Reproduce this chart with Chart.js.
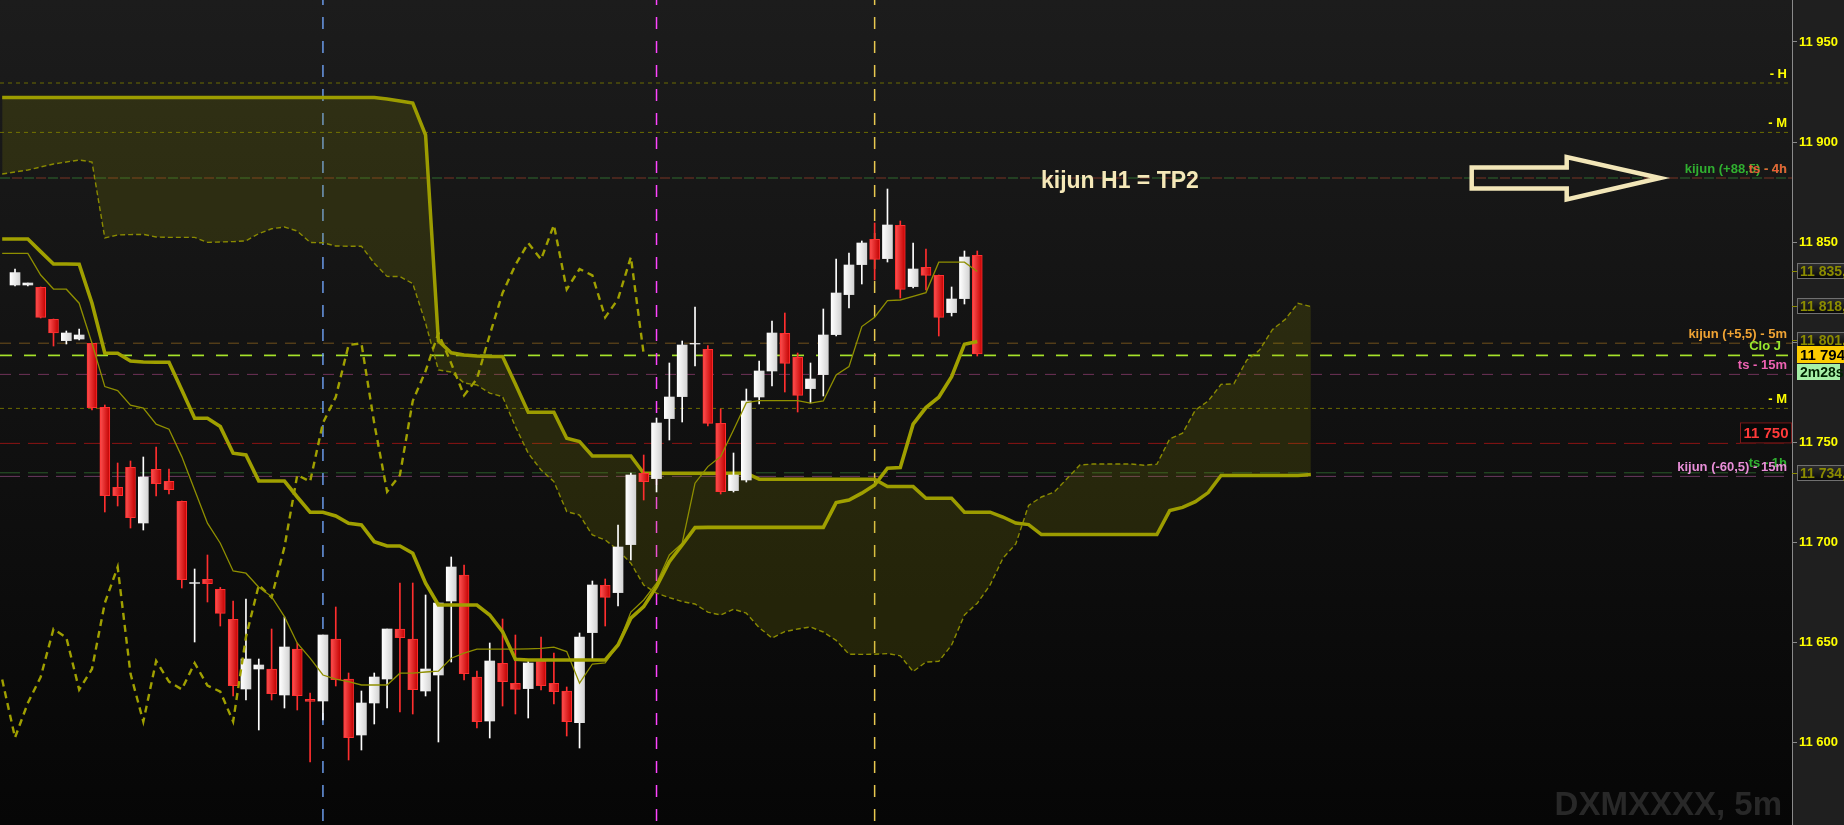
<!doctype html>
<html lang="en">
<head>
<meta charset="utf-8">
<title>DXMXXXX, 5m</title>
<style>
  * { margin: 0; padding: 0; }
  body { background: #0a0a0a; overflow: hidden; }
  .chartBox { width: 1844px; height: 825px; position: relative; }
</style>
</head>
<body>
<div class="chartBox"><canvas id="myChart"></canvas></div>
<script src="https://cdn.jsdelivr.net/npm/chart.js"></script>
<script>
// 5m candles, oldest first (bar index 0..75)
const opens = [11828.5, 11828.5, 11827.3, 11811.3, 11800.7, 11801.5, 11799.3, 11767.3, 11727.3, 11737.3,
  11709.5, 11736.3, 11730.3, 11720.3, 11679.3, 11681.3, 11676.3, 11661.3, 11626.5, 11636.5,
  11636.5, 11623.5, 11646.5, 11621.3, 11620.5, 11651.5, 11631.5, 11603.5, 11619.5, 11631.5,
  11656.5, 11651.5, 11625.5, 11633.5, 11670.5, 11683.5, 11632.5, 11610.5, 11639.3, 11629.3,
  11626.7, 11640.5, 11629.3, 11625.5, 11609.7, 11654.7, 11678.3, 11674.7, 11698.7, 11734.3,
  11731.7, 11761.7, 11772.7, 11799.0, 11796.3, 11759.3, 11725.7, 11731.0, 11772.5, 11785.5,
  11804.3, 11792.3, 11776.7, 11783.7, 11803.7, 11823.7, 11838.7, 11851.3, 11841.7, 11858.3,
  11827.7, 11837.3, 11833.3, 11814.7, 11821.7, 11843.3];
const highs = [11836.5, 11829.5, 11827.5, 11811.5, 11805.5, 11806.5, 11799.5, 11768.5, 11739.5, 11740.5,
  11742.5, 11747.5, 11736.5, 11720.5, 11686.5, 11693.5, 11677.3, 11670.5, 11671.5, 11641.5,
  11656.5, 11662.5, 11649.5, 11624.5, 11653.5, 11667.5, 11634.5, 11625.5, 11634.5, 11656.5,
  11679.5, 11679.5, 11673.5, 11669.5, 11692.5, 11688.5, 11635.5, 11649.5, 11661.5, 11653.5,
  11640.5, 11652.5, 11644.5, 11627.5, 11654.5, 11680.5, 11681.5, 11708.5, 11734.5, 11743.5,
  11762.0, 11789.5, 11800.5, 11817.5, 11798.2, 11766.5, 11744.5, 11776.5, 11790.5, 11810.5,
  11814.5, 11794.5, 11789.5, 11816.5, 11841.5, 11844.5, 11850.5, 11859.5, 11876.5, 11860.5,
  11849.5, 11846.5, 11833.5, 11827.5, 11845.5, 11845.5];
const lows = [11828.0, 11828.0, 11812.0, 11798.0, 11799.0, 11801.0, 11766.0, 11715.0, 11718.0, 11707.0,
  11706.0, 11723.0, 11724.0, 11677.0, 11650.0, 11670.0, 11658.0, 11623.0, 11621.0, 11606.0,
  11621.0, 11617.0, 11616.0, 11590.0, 11611.0, 11628.0, 11591.0, 11596.0, 11609.0, 11617.0,
  11615.0, 11614.0, 11623.0, 11600.0, 11640.0, 11631.0, 11607.0, 11602.0, 11618.0, 11614.0,
  11612.0, 11626.0, 11619.0, 11603.0, 11597.0, 11641.5, 11658.0, 11668.0, 11691.0, 11721.0,
  11725.0, 11751.0, 11760.0, 11788.0, 11758.0, 11724.0, 11725.0, 11730.0, 11769.0, 11778.0,
  11775.0, 11765.0, 11769.5, 11773.0, 11803.0, 11817.0, 11829.0, 11831.0, 11840.0, 11822.0,
  11827.0, 11826.0, 11803.0, 11813.0, 11819.0, 11793.0];
const closes = [11834.7, 11829.5, 11812.3, 11804.5, 11804.5, 11803.5, 11767.2, 11723.2, 11723.2, 11712.2,
  11732.5, 11729.2, 11726.2, 11681.2, 11679.7, 11679.2, 11664.3, 11628.2, 11641.5, 11638.5,
  11624.2, 11647.5, 11623.2, 11620.3, 11653.5, 11631.2, 11602.2, 11619.5, 11632.5, 11656.5,
  11652.2, 11626.2, 11636.5, 11669.5, 11687.5, 11634.2, 11610.2, 11640.5, 11630.2, 11626.3,
  11639.5, 11628.2, 11625.2, 11610.2, 11652.5, 11678.5, 11672.3, 11697.5, 11733.5, 11730.2,
  11759.5, 11772.5, 11798.5, 11799.3, 11759.3, 11725.2, 11733.5, 11770.5, 11785.5, 11804.5,
  11789.3, 11773.3, 11781.5, 11803.5, 11824.5, 11838.5, 11849.5, 11841.3, 11858.5, 11826.3,
  11836.5, 11833.3, 11812.3, 11821.5, 11842.5, 11794.0];

// ichimoku lines, first value sits at bar -1 (left edge)
const lineStart = -1;
const tenkan = [11844.3, 11844.3, 11844.3, 11833.5, 11826.5, 11826.4, 11819.4, 11799.4, 11777.7, 11775.7, 11768.4,
  11766.9, 11758.9, 11756.4, 11742.7, 11726.0, 11709.4, 11699.4, 11685.5, 11684.4, 11677.4,
  11672.7, 11662.7, 11649.4, 11641.9, 11633.5, 11631.4, 11630.2, 11628.5, 11628.5, 11628.5,
  11634.4, 11634.4, 11635.0, 11635.4, 11641.9, 11644.4, 11646.4, 11646.4, 11646.4, 11646.4,
  11646.6, 11646.8, 11647.4, 11645.2, 11629.4, 11639.0, 11639.5, 11648.5, 11665.0, 11671.0,
  11679.4, 11693.5, 11699.4, 11729.4, 11737.7, 11742.7, 11756.0, 11769.7, 11770.7, 11770.7,
  11770.7, 11770.7, 11769.4, 11770.5, 11783.5, 11787.7, 11807.7, 11812.4, 11820.7, 11821.0,
  11822.8, 11824.7, 11839.9, 11839.9, 11839.9, 11835.2];
const kijun = [11851.5, 11851.5, 11851.5, 11845.2, 11839.0, 11839.0, 11838.9, 11819.4, 11794.4, 11794.4, 11790.5,
  11790.0, 11789.9, 11789.9, 11776.0, 11761.9, 11761.9, 11757.7, 11744.4, 11743.5, 11730.5,
  11730.5, 11730.5, 11722.5, 11714.9, 11714.9, 11713.0, 11709.4, 11708.5, 11700.2, 11698.0,
  11698.0, 11694.4, 11679.4, 11668.5, 11668.5, 11668.5, 11668.5, 11663.5, 11655.2, 11641.4,
  11641.0, 11641.0, 11641.0, 11641.0, 11641.0, 11641.0, 11641.0, 11648.5, 11661.9, 11667.7,
  11677.7, 11690.2, 11698.5, 11707.2, 11707.3, 11707.3, 11707.3, 11707.3, 11707.3, 11707.3,
  11707.3, 11707.3, 11707.3, 11707.3, 11719.7, 11721.0, 11724.4, 11728.5, 11736.9, 11737.2,
  11758.9, 11767.2, 11772.4, 11782.7, 11798.9, 11800.2];
// cloud, bar -1..101 (already drawn 26 bars ahead)
const senkouA = [11884.0, 11885.0, 11886.0, 11887.5, 11889.0, 11890.0, 11891.0, 11890.0, 11852.0, 11853.5, 11853.7,
  11853.8, 11852.5, 11852.3, 11852.3, 11852.3, 11849.8, 11850.0, 11850.2, 11850.6, 11854.2,
  11856.6, 11857.5, 11855.5, 11849.8, 11849.6, 11848.0, 11847.9, 11847.9, 11839.4, 11832.8,
  11832.7, 11829.2, 11809.4, 11786.0, 11785.0, 11779.5, 11778.5, 11774.4, 11772.7, 11757.7,
  11744.4, 11736.0, 11730.2, 11715.2, 11713.5, 11703.5, 11701.0, 11696.0, 11689.4, 11678.5,
  11674.4, 11672.2, 11670.2, 11669.0, 11664.9, 11663.5, 11666.4, 11664.4, 11657.2, 11652.0,
  11655.2, 11656.5, 11657.5, 11655.0, 11650.8, 11643.9, 11643.8, 11643.9, 11644.2, 11643.1,
  11635.2, 11640.0, 11640.3, 11648.5, 11663.5, 11669.4, 11678.5, 11691.9, 11699.0, 11718.3,
  11722.5, 11725.0, 11731.7, 11738.5, 11739.0, 11739.0, 11739.0, 11739.0, 11738.4, 11738.9,
  11751.6, 11754.4, 11766.0, 11770.5, 11778.8, 11779.1, 11790.9, 11796.0, 11806.2, 11811.3,
  11819.4, 11817.7];
const senkouB = [11922.2, 11922.2, 11922.2, 11922.2, 11922.2, 11922.2, 11922.2, 11922.2, 11922.2, 11922.2, 11922.2,
  11922.2, 11922.2, 11922.2, 11922.2, 11922.2, 11922.2, 11922.2, 11922.2, 11922.2, 11922.2,
  11922.2, 11922.2, 11922.2, 11922.2, 11922.2, 11922.2, 11922.2, 11922.2, 11922.2, 11921.5,
  11920.5, 11919.5, 11903.5, 11800.5, 11794.6, 11793.5, 11793.0, 11792.7, 11792.7, 11779.0,
  11764.9, 11764.9, 11764.9, 11751.9, 11750.2, 11743.0, 11743.0, 11743.0, 11743.0, 11734.4,
  11734.4, 11734.4, 11734.4, 11734.4, 11734.4, 11734.4, 11734.4, 11734.4, 11731.4, 11731.4,
  11731.4, 11731.4, 11731.4, 11731.4, 11731.4, 11731.4, 11731.4, 11731.4, 11727.7, 11727.7,
  11727.7, 11721.9, 11721.9, 11721.9, 11714.9, 11714.9, 11714.9, 11712.5, 11709.5, 11708.7,
  11703.7, 11703.7, 11703.7, 11703.7, 11703.7, 11703.7, 11703.7, 11703.7, 11703.7, 11703.7,
  11715.7, 11717.3, 11720.2, 11724.7, 11733.3, 11733.3, 11733.3, 11733.3, 11733.3, 11733.3,
  11733.3, 11733.8];
const chikouShift = 26; // lagging line = closes drawn 26 bars back

const priceTicks = [11600, 11650, 11700, 11750, 11800, 11850, 11900, 11950];

// horizontal levels with their right-hand tags
const levelValues = [11929.5, 11904.8, 11882.0, 11882.0, 11799.4, 11793.3, 11783.8, 11766.8, 11749.3, 11734.6, 11732.8];
const levelLabels = ['- H', '- M', 'kijun (+88,5) - 4h', 'ts - 4h', 'kijun (+5,5) - 5m', 'Clo J', 'ts - 15m', '- M', '', 'ts - 1h', 'kijun (-60,5) - 15m'];

// session separators (bar index)
const markerBars = [24, 50, 67];

// values tagged on the price axis
const axisTagValues = [11835.5, 11818.2, 11801.0, 11734.5];
const lastPrice = 11794;
const countdown = '2m28s';
const alertPrice = 11750;

// ---- styles ----
const FONT = 'Arial, "Liberation Sans", sans-serif';
const levelStyles = [
  {line: '#6b6b00', dash: [4, 4], text: '#ffff00'},
  {line: '#6b6b00', dash: [4, 4], text: '#ffff00'},
  {line: '#2f6a2f', dash: [10, 14], off: 0, text: '#30b030'},
  {line: '#7a3424', dash: [10, 14], off: 12, text: '#e85a36'},
  {line: '#70501c', dash: [11, 8], text: '#f0a434'},
  {line: '#a6e22a', dash: [12, 12], width: 1.7, text: '#9ae82e', inset: 6},
  {line: '#6e3258', dash: [11, 8], text: '#ee62b2'},
  {line: '#6b6b00', dash: [4, 4], text: '#ffff00'},
  {line: '#8a1414', dash: [20, 8], text: null},
  {line: '#2a5a2a', dash: [20, 8], text: '#30b030'},
  {line: '#6a3a5e', dash: [20, 8], text: '#e88ed8'}
];
const markerColors = ['#6a9ae8', '#ff44ff', '#e8c850'];

const xMin = -1.17, xMax = 138.5, yMin = 11558.5, yMax = 11971;

function fmtPrice(v, dec) {
  const s = v.toFixed(dec).split('.');
  const whole = s[0].replace(/\B(?=(\d{3})+(?!\d))/g, ' ');
  return s.length > 1 ? whole + ',' + s[1] : whole;
}

const isUp = i => closes[i] >= opens[i];
const bars = opens.map((_, i) => i);
const asLine = arr => arr.map((v, i) => ({x: i + lineStart, y: v}));

function bodyFill(c) {
  const i = c.dataIndex;
  const up = isUp(i);
  const chart = c.chart;
  if (!chart.chartArea || !chart.scales.x) return up ? '#f0f0f0' : '#ee2222';
  const px = chart.scales.x.getPixelForValue(i);
  const g = chart.ctx.createLinearGradient(px - 5, 0, px + 5, 0);
  if (up) { g.addColorStop(0, '#ffffff'); g.addColorStop(1, '#d4d4d4'); }
  else { g.addColorStop(0, '#ff5252'); g.addColorStop(1, '#c20000'); }
  return g;
}

const datasets = [];

levelValues.forEach((v, i) => {
  const s = levelStyles[i];
  datasets.push({
    type: 'line', data: [{x: xMin, y: v}, {x: xMax, y: v}],
    borderColor: s.line, borderWidth: s.width || 1, borderDash: s.dash, borderDashOffset: s.off || 0,
    pointRadius: 0, order: 20
  });
});
markerBars.forEach((b, i) => {
  datasets.push({
    type: 'line', data: [{x: b, y: yMax}, {x: b, y: yMin}],
    borderColor: markerColors[i], borderWidth: 1.5, borderDash: [12, 12], borderDashOffset: 7,
    pointRadius: 0, order: 19
  });
});

// cloud: span A with fill towards span B (next dataset)
datasets.push({
  type: 'line', label: 'senkou A',
  data: asLine(senkouA),
  borderColor: '#8a8a00', borderWidth: 1.4, borderDash: [5, 3],
  fill: {target: '+1', above: 'rgba(150,150,0,0.18)', below: 'rgba(150,150,0,0.18)'},
  pointRadius: 0, order: 10
});
datasets.push({
  type: 'line', label: 'senkou B',
  data: asLine(senkouB),
  borderColor: '#9c9c00', borderWidth: 3.5,
  pointRadius: 0, order: 9
});

// candles: wicks then bodies
datasets.push({
  type: 'bar', label: 'wicks',
  data: bars.map(i => ({x: i, y: [lows[i], highs[i]]})),
  backgroundColor: c => isUp(c.dataIndex) ? '#ffffff' : '#ff2e2e',
  barThickness: 1, grouped: false, borderWidth: 0, order: 6
});
datasets.push({
  type: 'bar', label: 'bodies',
  data: bars.map(i => ({x: i, y: [opens[i], closes[i]]})),
  backgroundColor: bodyFill,
  borderColor: c => isUp(c.dataIndex) ? '#f4f4f4' : '#ff3030',
  borderWidth: c => isUp(c.dataIndex) ? 0 : 1,
  borderSkipped: false,
  barThickness: 10, grouped: false, order: 5
});

datasets.push({
  type: 'line', label: 'chikou',
  data: closes.map((v, i) => ({x: i - chikouShift, y: v})).filter(p => p.x >= -1),
  borderColor: '#a0a000', borderWidth: 2.4, borderDash: [7, 5],
  pointRadius: 0, order: 3
});
datasets.push({
  type: 'line', label: 'tenkan',
  data: asLine(tenkan),
  borderColor: '#8f8f00', borderWidth: 1.3,
  pointRadius: 0, order: 2
});
datasets.push({
  type: 'line', label: 'kijun',
  data: asLine(kijun),
  borderColor: '#a0a000', borderWidth: 3.6,
  pointRadius: 0, order: 1
});

const background = {
  id: 'background',
  beforeDraw(chart) {
    const {ctx, chartArea: a, width, height} = chart;
    ctx.save();
    const g = ctx.createLinearGradient(0, a.top, 0, a.bottom);
    g.addColorStop(0, '#1c1c1c');
    g.addColorStop(1, '#060606');
    ctx.fillStyle = g;
    ctx.fillRect(a.left, a.top, a.right - a.left, a.bottom - a.top);
    ctx.fillStyle = '#1f1f1f';
    ctx.fillRect(a.right, 0, width - a.right, height);
    ctx.font = 'bold 33px ' + FONT;
    ctx.fillStyle = '#282828';
    ctx.textAlign = 'right';
    ctx.textBaseline = 'alphabetic';
    ctx.fillText('DXMXXXX, 5m', a.right - 10, 815);
    ctx.restore();
  }
};

function tag(ctx, x, y, w, h, fill, stroke, text, color) {
  ctx.fillStyle = fill;
  ctx.fillRect(x, y, w, h);
  if (stroke) {
    ctx.strokeStyle = stroke;
    ctx.lineWidth = 1;
    ctx.strokeRect(x + 0.5, y + 0.5, w - 1, h - 1);
  }
  ctx.fillStyle = color;
  ctx.fillText(text, x + 3, y + h / 2 + 1);
}

const annotations = {
  id: 'annotations',
  afterDraw(chart) {
    const {ctx, chartArea: a, scales: {y}} = chart;
    ctx.save();
    // level tags
    ctx.font = 'bold 13px ' + FONT;
    ctx.textAlign = 'right';
    ctx.textBaseline = 'middle';
    levelValues.forEach((v, i) => {
      const s = levelStyles[i];
      if (!levelLabels[i] || !s.text) return;
      ctx.fillStyle = s.text;
      ctx.fillText(levelLabels[i], a.right - 5 - (s.inset || 0), y.getPixelForValue(v) - 9);
    });

    // alert price box
    const ay = y.getPixelForValue(alertPrice - 0.7);
    ctx.fillStyle = '#080808';
    ctx.fillRect(a.right - 52, ay - 21, 52, 21);
    ctx.strokeStyle = '#7a1a1a';
    ctx.strokeRect(a.right - 51.5, ay - 20.5, 51, 20);
    ctx.font = 'bold 15px ' + FONT;
    ctx.textAlign = 'center';
    ctx.fillStyle = '#ff3a3a';
    ctx.fillText(fmtPrice(alertPrice, 0), a.right - 26, ay - 10);

    // axis tags
    ctx.textAlign = 'left';
    ctx.font = 'bold 14px ' + FONT;
    axisTagValues.forEach(v => {
      const py = Math.round(y.getPixelForValue(v));
      const g = ctx.createLinearGradient(0, py - 8, 0, py + 8);
      g.addColorStop(0, '#303030');
      g.addColorStop(1, '#060606');
      ctx.strokeStyle = '#8a8a00';
      ctx.beginPath(); ctx.moveTo(a.right, py + 0.5); ctx.lineTo(a.right + 5, py + 0.5); ctx.stroke();
      tag(ctx, a.right + 5, py - 8, 60, 16, g, '#707070', fmtPrice(v, 1), '#8c8c00');
    });
    const ly = Math.round(y.getPixelForValue(lastPrice));
    ctx.font = 'bold 15px ' + FONT;
    tag(ctx, a.right + 5, ly - 8, 60, 17, '#fccc00', null, fmtPrice(lastPrice, 0), '#000000');
    ctx.font = 'bold 14px ' + FONT;
    tag(ctx, a.right + 5, ly + 10, 43, 16, '#a6f0a6', null, countdown, '#002200');

    // comment and arrow
    const ky = y.getPixelForValue(levelValues[2]);
    ctx.font = 'bold 23px ' + FONT;
    ctx.fillStyle = '#f5e8b8';
    ctx.textAlign = 'left';
    ctx.fillText('kijun H1 = TP2', 1041, ky + 4);

    ctx.strokeStyle = '#f2e6b8';
    ctx.lineWidth = 4.5;
    ctx.lineJoin = 'miter';
    ctx.beginPath();
    ctx.moveTo(1471.7, ky - 10.5);
    ctx.lineTo(1566.7, ky - 10.5);
    ctx.lineTo(1566.7, ky - 21);
    ctx.lineTo(1660, ky);
    ctx.lineTo(1566.7, ky + 21.5);
    ctx.lineTo(1566.7, ky + 10.5);
    ctx.lineTo(1471.7, ky + 10.5);
    ctx.closePath();
    ctx.stroke();
    ctx.restore();
  }
};

const config = {
  type: 'line',
  data: {datasets},
  options: {
    responsive: true,
    maintainAspectRatio: false,
    devicePixelRatio: 1,
    animation: false,
    events: [],
    layout: {padding: 0},
    plugins: {legend: {display: false}, tooltip: {enabled: false}},
    scales: {
      x: {type: 'linear', min: xMin, max: xMax, offset: false, display: false},
      y: {
        type: 'linear', position: 'right', min: yMin, max: yMax,
        afterBuildTicks: s => { s.ticks = priceTicks.map(v => ({value: v})); },
        afterFit: s => { s.width = 52; s.paddingTop = 0; s.paddingBottom = 0; },
        grid: {drawOnChartArea: false, drawTicks: true, tickLength: 5, color: '#8a8a8a'},
        border: {display: true, color: '#8a8a8a'},
        ticks: {
          color: '#ffff00', padding: 2,
          font: {family: FONT, size: 13, weight: 'bold'},
          callback: v => fmtPrice(v, 0)
        }
      }
    }
  },
  plugins: [background, annotations]
};

const myChart = new Chart(document.getElementById('myChart'), config);
</script>
</body>
</html>
